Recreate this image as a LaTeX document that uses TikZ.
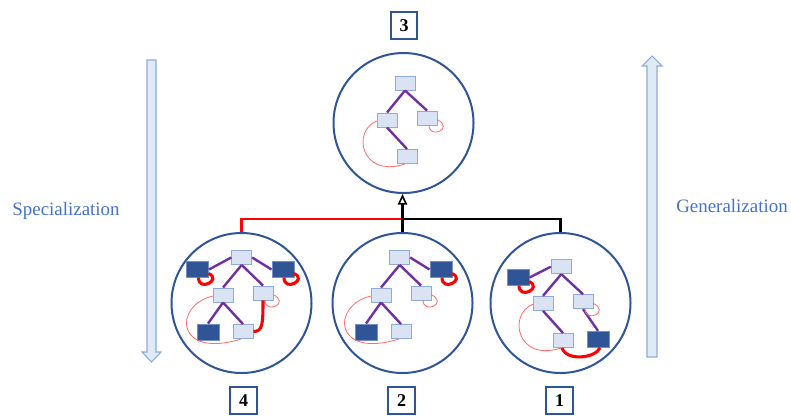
\documentclass[tikz,border=0pt]{standalone}
\usepackage{fontspec}
\setmainfont{Liberation Serif}
\usetikzlibrary{arrows.meta,calc}
\definecolor{circblue}{HTML}{2F5597}
\definecolor{lightfill}{HTML}{DAE3F3}
\definecolor{lightedge}{HTML}{8FAADC}
\definecolor{darkfill}{HTML}{2F5597}
\definecolor{darkedge}{HTML}{7490C8}
\definecolor{treepurple}{HTML}{7030A0}
\definecolor{pinkred}{HTML}{FF6A6A}
\definecolor{textblue}{HTML}{4472C4}
\definecolor{arrowfill}{HTML}{DEEBF7}
\definecolor{arrowedge}{HTML}{8FAADC}
\tikzset{
  bigcirc/.style={circle,draw=circblue,line width=1.5pt,minimum size=105pt,inner sep=0pt},
  lightbox/.style={rectangle,draw=lightedge,fill=lightfill,line width=0.7pt,minimum width=15pt,minimum height=10.5pt,inner sep=0pt},
  darkbox/.style={rectangle,draw=darkedge,fill=darkfill,line width=0.7pt,minimum width=16.5pt,minimum height=12pt,inner sep=0pt},
  treeedge/.style={draw=treepurple,line width=1.8pt},
  thickred/.style={draw=red,line width=2.3pt},
  thinred/.style={draw=pinkred,line width=0.6pt},
  numbox/.style={rectangle,draw=circblue,line width=1.6pt,minimum width=20pt,minimum height=20pt,inner sep=0pt,font=\bfseries\fontsize{13.5}{15}\selectfont},
  sidelabel/.style={text=textblue,font=\fontsize{14.2}{17}\selectfont,inner sep=0pt},
  blockarrow/.style={draw=arrowedge,fill=arrowfill,line width=0.8pt,line join=miter},
  redconn/.style={draw=red,line width=1.6pt},
  blackconn/.style={draw=black,line width=1.6pt}
}
\newcommand{\mythinloop}[1]{\draw[thinred] ($(#1)+(2,7)$) .. controls ($(#1)+(2,22)$) and ($(#1)+(28,10)$) .. ($(#1)+(10,1.5)$);}
\newcommand{\mythickloop}[1]{\draw[thickred] ($(#1)+(1,8)$) .. controls ($(#1)+(1,23)$) and ($(#1)+(25,10)$) .. ($(#1)+(11,4)$);}
\newcommand{\mysmallarc}[2]{\draw[thinred] ($(#1)+(-10,1)$) .. controls ($(#1)+(-35,10)$) and ($(#2)+(-47,22)$) .. ($(#2)+(-2,7.5)$);}
\newcommand{\mybigarc}[2]{\draw[thinred] ($(#1)+(-10,1)$) .. controls ($(#1)+(-50,10)$) and ($(#2)+(-68,28)$) .. ($(#2)+(-2,7.5)$);}
\begin{document}
\begin{tikzpicture}[x=0.75pt,y=-0.75pt]
\useasboundingbox (0,0) rectangle (791,415);

% block arrows
\draw[blockarrow] (147,60) -- (156,60) -- (156,352) -- (161,352) -- (151.5,362) -- (142,352) -- (147,352) -- cycle;
\draw[blockarrow] (647,357) -- (657,357) -- (657,66) -- (662,66) -- (652,56) -- (642,66) -- (647,66) -- cycle;
\node[sidelabel] (spec) at (66,211) {Specialization};
\node[sidelabel] (gen) at (732,206) {Generalization};

% circles
\node[bigcirc] (c3) at (403.5,123) {};
\node[bigcirc] (c4) at (241.5,303) {};
\node[bigcirc] (c2) at (402.5,303) {};
\node[bigcirc] (c1) at (560.5,303) {};

% number boxes
\node[numbox] (n3) at (404,25.5) {3};
\node[numbox] (n4) at (243.5,400.5) {4};
\node[numbox] (n2) at (401.5,400.5) {2};
\node[numbox] (n1) at (559.5,400.5) {1};

% connectors
\coordinate (j) at (402.5,219);
\draw[redconn] (c4.north) |- (j);
\draw[blackconn] (c1.north) |- (j);
\draw[blackconn,-{Triangle[open,length=8pt,width=7pt,line width=1.2pt]}] (c2.north) -- (c2.north |- c3.south);

% ---- tree 3 (top)
\node[lightbox] (t3a) at (405,83) {};
\node[lightbox] (t3b) at (387,120) {};
\node[lightbox] (t3c) at (427,118) {};
\node[lightbox] (t3d) at (407,156.5) {};
\draw[treeedge] (t3a.south) -- (t3b.north);
\draw[treeedge] (t3a.south) -- (t3c.north);
\draw[treeedge] (t3b.south) -- (t3d.north);
\mythinloop{t3c}
\mysmallarc{t3b}{t3d}

% ---- tree 4
\node[lightbox] (t4a) at (241.7,257.5) {};
\node[darkbox] (t4dl) at (197.5,269.5) {};
\node[darkbox] (t4dr) at (283,269.5) {};
\node[lightbox] (t4b) at (223,295) {};
\node[lightbox] (t4c) at (263,293) {};
\node[darkbox] (t4dd) at (208,332) {};
\node[lightbox] (t4d) at (243,331.5) {};
\draw[treeedge] (t4a.west) -- (t4dl.east);
\draw[treeedge] (t4a.east) -- (t4dr.west);
\draw[treeedge] (t4a.south) -- (t4b.north);
\draw[treeedge] (t4a.south) -- (t4c.north);
\draw[treeedge] (t4b.south) -- (t4dd.north);
\draw[treeedge] (t4b.south) -- (t4d.north);
\mythickloop{t4dl}
\mythickloop{t4dr}
\mythinloop{t4c}
\mybigarc{t4b}{t4d}
\draw[thickred] (t4c.south) .. controls ($(t4c.south)+(0,24)$) and ($(t4d.east)+(9,0)$) .. (t4d.east);

% ---- tree 2
\node[lightbox] (t2a) at (399.7,257.5) {};
\node[darkbox] (t2dr) at (441,269.5) {};
\node[lightbox] (t2b) at (381,295) {};
\node[lightbox] (t2c) at (421,293) {};
\node[darkbox] (t2dd) at (366,332) {};
\node[lightbox] (t2d) at (401,331.5) {};
\draw[treeedge] (t2a.east) -- (t2dr.west);
\draw[treeedge] (t2a.south) -- (t2b.north);
\draw[treeedge] (t2a.south) -- (t2c.north);
\draw[treeedge] (t2b.south) -- (t2dd.north);
\draw[treeedge] (t2b.south) -- (t2d.north);
\mythickloop{t2dr}
\mythinloop{t2c}
\mybigarc{t2b}{t2d}

% ---- tree 1
\node[lightbox] (t1a) at (561.3,266.7) {};
\node[darkbox] (t1dl) at (518,277.5) {};
\node[lightbox] (t1b) at (543,303.3) {};
\node[lightbox] (t1c) at (583,301.7) {};
\node[lightbox] (t1d) at (563,340.5) {};
\node[darkbox] (t1dd) at (598,339.3) {};
\draw[treeedge] (t1a.west) -- (t1dl.east);
\draw[treeedge] (t1a.south) -- (t1b.north);
\draw[treeedge] (t1a.south) -- (t1c.north);
\draw[treeedge] (t1b.south) -- (t1d.north);
\draw[treeedge] (t1c.south) -- (t1dd.north);
\mythickloop{t1dl}
\mythinloop{t1c}
\mysmallarc{t1b}{t1d}
\draw[thickred] ($(t1d.south)+(-1,0)$) .. controls ($(t1d.south)+(4,14)$) and ($(t1dd.south)+(-2,10)$) .. ($(t1dd.south)+(2,0)$);
\end{tikzpicture}
\end{document}
